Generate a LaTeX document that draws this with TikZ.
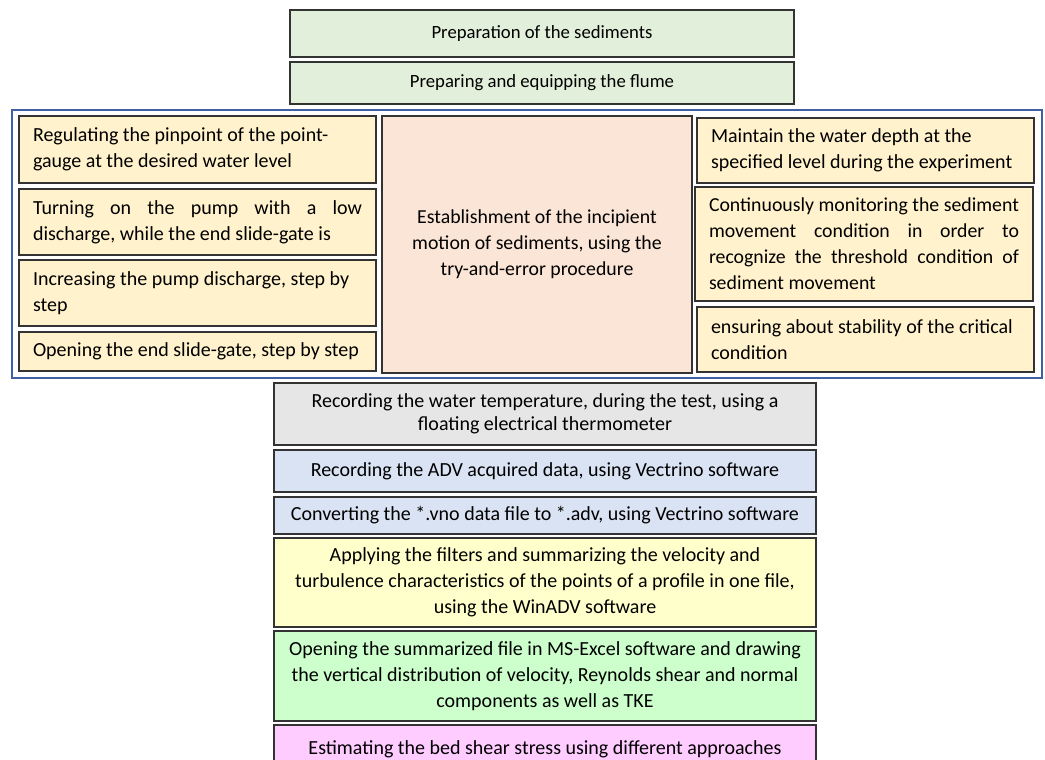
\documentclass[tikz,border=0pt]{standalone}
\usepackage{fontspec}
\setmainfont{Carlito}
\usepackage{xcolor}
\usetikzlibrary{positioning}

\definecolor{prepgreen}{HTML}{E2EFDA}
\definecolor{stepyellow}{HTML}{FFF2CC}
\definecolor{peach}{HTML}{FBE5D6}
\definecolor{tempgray}{HTML}{E7E6E6}
\definecolor{advblue}{HTML}{DAE3F3}
\definecolor{winyellow}{HTML}{FFFFCC}
\definecolor{excelgreen}{HTML}{CCFFCC}
\definecolor{shearpink}{HTML}{FFCCFF}
\definecolor{framecol}{RGB}{64,96,165}

\begin{document}
\begin{tikzpicture}[x=1pt, y=-1pt,
  box/.style={draw=black!80, line width=1.3pt, inner ysep=2pt,
    font=\fontsize{20}{26}\selectfont},
  sidebox/.style={box, fill=stepyellow, inner xsep=14pt, align=flush left},
  rowbox/.style={box, minimum width=542pt, inner xsep=6pt, align=center}]
\useasboundingbox (0,0) rectangle (1045,760);
\clip (0,0) rectangle (1045,760);

% Preparation
\node[box, fill=prepgreen, minimum width=504pt, minimum height=47pt, font=\fontsize{18.7}{24}\selectfont] (sediment) at (542,33.5) {Preparation of the sediments};
\node[box, fill=prepgreen, minimum width=504pt, minimum height=42pt, font=\fontsize{18.7}{24}\selectfont] (flume) at (542,83) {Preparing and equipping the flume};

% Incipient motion block
\draw[framecol, line width=2pt] (12,110) rectangle (1042,378);
\node[sidebox, text width=329pt, minimum height=67pt] (gauge) at (197.5,149.5) {Regulating the pinpoint of the point-\\gauge at the desired water level};
\node[sidebox, text width=329pt, minimum height=66pt, align=justify] (pump) at (197.5,222) {\parfillskip=0pt Turning on the pump with a low\linebreak discharge, while the end slide-gate is};
\node[sidebox, text width=329pt, minimum height=66pt] (discharge) at (197.5,293) {Increasing the pump discharge, step by\\step};
\node[sidebox, text width=329pt, minimum height=39pt] (gate) at (197.5,351.5) {Opening the end slide-gate, step by step};
\node[box, fill=peach, minimum width=310pt, minimum height=257pt, align=center, font=\fontsize{19.8}{26}\selectfont] (incipient) at (537,244.5) {Establishment of the incipient\\motion of sediments, using the\\try-and-error procedure};
\node[sidebox, text width=309pt, minimum height=65pt] (depth) at (865.5,150.5) {Maintain the water depth at the\\specified level during the experiment};
\node[sidebox, text width=310pt, minimum height=114pt, align=justify, font=\fontsize{19.8}{26}\selectfont] (monitor) at (864,244) {Continuously monitoring the sediment\linebreak movement condition in order to\linebreak recognize the threshold condition of\linebreak sediment movement};
\node[sidebox, text width=309pt, minimum height=65pt] (stable) at (865.5,339.5) {ensuring about stability of the critical\\condition};

% Measurement and processing
\node[rowbox, fill=tempgray, minimum height=62pt, font=\fontsize{20}{23.5}\selectfont] (temp) at (545,414) {Recording the water temperature, during the test, using a\\floating electrical thermometer};
\node[rowbox, fill=advblue, minimum height=42pt] (record) at (545,471) {Recording the ADV acquired data, using Vectrino software};
\node[rowbox, fill=advblue, minimum height=37pt] (convert) at (545,515.5) {Converting the *.vno data file to *.adv, using Vectrino software};
\node[rowbox, fill=winyellow, minimum height=89pt] (filter) at (545,582.5) {Applying the filters and summarizing the velocity and\\turbulence characteristics of the points of a profile in one file,\\using the WinADV software};
\node[rowbox, fill=excelgreen, minimum height=90pt] (excel) at (545,676) {Opening the summarized file in MS-Excel software and drawing\\the vertical distribution of velocity, Reynolds shear and normal\\components as well as TKE};
\node[rowbox, fill=shearpink, minimum height=48pt] (shear) at (545,749) {Estimating the bed shear stress using different approaches};
\end{tikzpicture}
\end{document}
